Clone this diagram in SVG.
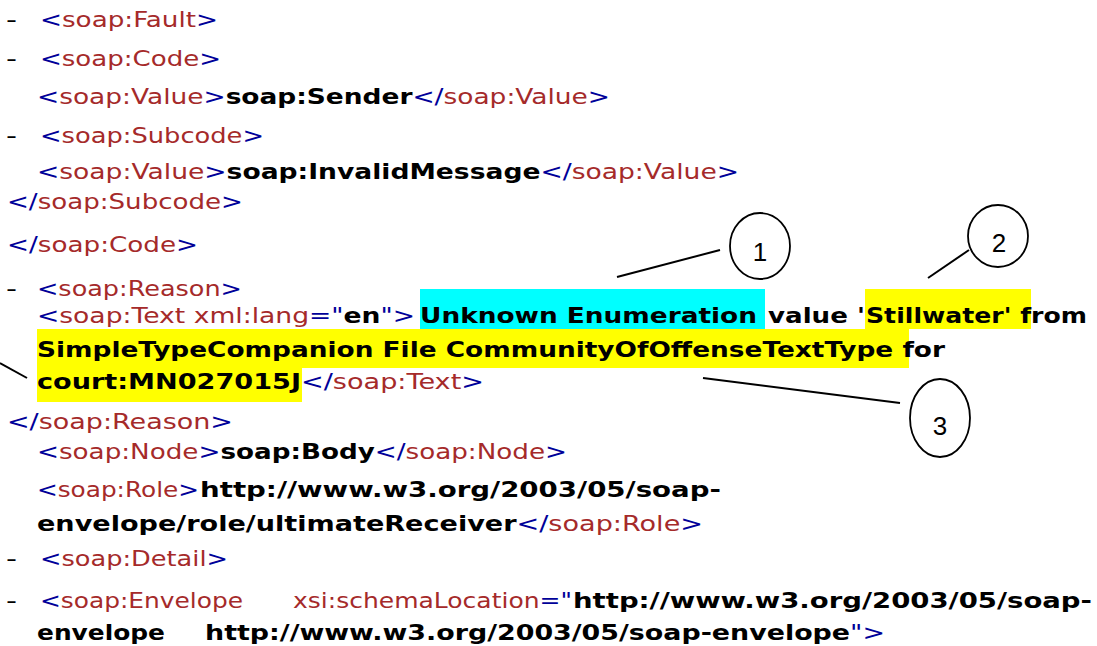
<svg xmlns="http://www.w3.org/2000/svg" width="1097" height="646" viewBox="0 0 1097 646">
<style>
text{font-family:"DejaVu Sans",Verdana,sans-serif;font-size:22px;white-space:pre}
.b{fill:#000099}
.r{fill:#A52A2A}
.k{fill:#000;font-weight:bold}
.d{fill:#000}
.num{font-family:"Liberation Sans",Arial,sans-serif;font-size:26px;fill:#000;text-anchor:middle}
.ell{fill:none;stroke:#000;stroke-width:1.8}
.ln{stroke:#000;stroke-width:2;fill:none}
</style>
<rect width="1097" height="646" fill="#fff"/>
<g id="highlights">
<rect x="420" y="289" width="345" height="40" fill="#00FFFF"/>
<rect x="865" y="289" width="166" height="40" fill="#FFFF00"/>
<rect x="37" y="329" width="872" height="39" fill="#FFFF00"/>
<rect x="37" y="367" width="265" height="35" fill="#FFFF00"/>
</g>
<g id="listing">
<g id="l1"><text class="d" x="6" y="27" textLength="11" lengthAdjust="spacingAndGlyphs">-</text><text x="40" y="27" textLength="178" lengthAdjust="spacingAndGlyphs"><tspan class="b">&lt;</tspan><tspan class="r">soap:Fault</tspan><tspan class="b">&gt;</tspan></text></g>
<g id="l2"><text class="d" x="6" y="66" textLength="11" lengthAdjust="spacingAndGlyphs">-</text><text x="40" y="66" textLength="181" lengthAdjust="spacingAndGlyphs"><tspan class="b">&lt;</tspan><tspan class="r">soap:Code</tspan><tspan class="b">&gt;</tspan></text></g>
<g id="l3"><text x="37" y="104" textLength="573" lengthAdjust="spacingAndGlyphs"><tspan class="b">&lt;</tspan><tspan class="r">soap:Value</tspan><tspan class="b">&gt;</tspan><tspan class="k">soap:Sender</tspan><tspan class="b">&lt;/</tspan><tspan class="r">soap:Value</tspan><tspan class="b">&gt;</tspan></text></g>
<g id="l4"><text class="d" x="6" y="143" textLength="11" lengthAdjust="spacingAndGlyphs">-</text><text x="40" y="143" textLength="224" lengthAdjust="spacingAndGlyphs"><tspan class="b">&lt;</tspan><tspan class="r">soap:Subcode</tspan><tspan class="b">&gt;</tspan></text></g>
<g id="l5"><text x="37" y="179" textLength="702" lengthAdjust="spacingAndGlyphs"><tspan class="b">&lt;</tspan><tspan class="r">soap:Value</tspan><tspan class="b">&gt;</tspan><tspan class="k">soap:InvalidMessage</tspan><tspan class="b">&lt;/</tspan><tspan class="r">soap:Value</tspan><tspan class="b">&gt;</tspan></text></g>
<g id="l6"><text x="7" y="209" textLength="236" lengthAdjust="spacingAndGlyphs"><tspan class="b">&lt;/</tspan><tspan class="r">soap:Subcode</tspan><tspan class="b">&gt;</tspan></text></g>
<g id="l7"><text x="7" y="252" textLength="191" lengthAdjust="spacingAndGlyphs"><tspan class="b">&lt;/</tspan><tspan class="r">soap:Code</tspan><tspan class="b">&gt;</tspan></text></g>
<g id="l8"><text class="d" x="6" y="296" textLength="11" lengthAdjust="spacingAndGlyphs">-</text><text x="37" y="296" textLength="205" lengthAdjust="spacingAndGlyphs"><tspan class="b">&lt;</tspan><tspan class="r">soap:Reason</tspan><tspan class="b">&gt;</tspan></text></g>
<g id="l9"><text x="37" y="323" textLength="378" lengthAdjust="spacingAndGlyphs"><tspan class="b">&lt;</tspan><tspan class="r">soap:Text xml:lang</tspan><tspan class="b">="</tspan><tspan class="k">en</tspan><tspan class="b">"&gt;</tspan></text><text class="k" x="420" y="323" textLength="337" lengthAdjust="spacingAndGlyphs">Unknown Enumeration</text><text class="k" x="768" y="323" textLength="97" lengthAdjust="spacingAndGlyphs">value '</text><text class="k" x="866" y="323" textLength="221" lengthAdjust="spacingAndGlyphs">Stillwater' from</text></g>
<g id="l10"><text class="k" x="37" y="357" textLength="908" lengthAdjust="spacingAndGlyphs">SimpleTypeCompanion File CommunityOfOffenseTextType for</text></g>
<g id="l11"><text x="37" y="389" textLength="447" lengthAdjust="spacingAndGlyphs"><tspan class="k">court:MN027015J</tspan><tspan class="b">&lt;/</tspan><tspan class="r">soap:Text</tspan><tspan class="b">&gt;</tspan></text></g>
<g id="l12"><text x="7" y="429" textLength="226" lengthAdjust="spacingAndGlyphs"><tspan class="b">&lt;/</tspan><tspan class="r">soap:Reason</tspan><tspan class="b">&gt;</tspan></text></g>
<g id="l13"><text x="37" y="459" textLength="530" lengthAdjust="spacingAndGlyphs"><tspan class="b">&lt;</tspan><tspan class="r">soap:Node</tspan><tspan class="b">&gt;</tspan><tspan class="k">soap:Body</tspan><tspan class="b">&lt;/</tspan><tspan class="r">soap:Node</tspan><tspan class="b">&gt;</tspan></text></g>
<g id="l14"><text x="37" y="497" textLength="162" lengthAdjust="spacingAndGlyphs"><tspan class="b">&lt;</tspan><tspan class="r">soap:Role</tspan><tspan class="b">&gt;</tspan></text><text class="k" x="200" y="497" textLength="521" lengthAdjust="spacingAndGlyphs">http://www.w3.org/2003/05/soap-</text></g>
<g id="l15"><text x="37" y="531" textLength="666" lengthAdjust="spacingAndGlyphs"><tspan class="k">envelope/role/ultimateReceiver</tspan><tspan class="b">&lt;/</tspan><tspan class="r">soap:Role</tspan><tspan class="b">&gt;</tspan></text></g>
<g id="l16"><text class="d" x="6" y="566" textLength="11" lengthAdjust="spacingAndGlyphs">-</text><text x="40" y="566" textLength="188" lengthAdjust="spacingAndGlyphs"><tspan class="b">&lt;</tspan><tspan class="r">soap:Detail</tspan><tspan class="b">&gt;</tspan></text></g>
<g id="l17"><text class="d" x="6" y="608" textLength="11" lengthAdjust="spacingAndGlyphs">-</text><text x="40" y="608" textLength="203" lengthAdjust="spacingAndGlyphs"><tspan class="b">&lt;</tspan><tspan class="r">soap:Envelope</tspan></text><text x="293" y="608" textLength="279" lengthAdjust="spacingAndGlyphs"><tspan class="r">xsi:schemaLocation</tspan><tspan class="b">="</tspan></text><text class="k" x="573" y="608" textLength="519" lengthAdjust="spacingAndGlyphs">http://www.w3.org/2003/05/soap-</text></g>
<g id="l18"><text class="k" x="37" y="640" textLength="128" lengthAdjust="spacingAndGlyphs">envelope</text><text x="205" y="640" textLength="680" lengthAdjust="spacingAndGlyphs"><tspan class="k">http://www.w3.org/2003/05/soap-envelope</tspan><tspan class="b">"&gt;</tspan></text></g>
</g>
<g id="connectors">
<line class="ln" x1="617" y1="277" x2="720" y2="250"/>
<line class="ln" x1="928" y1="278" x2="969" y2="250"/>
<line class="ln" x1="703" y1="378" x2="900" y2="403"/>
<line class="ln" x1="0" y1="363" x2="27" y2="378"/>
</g>
<g id="callout1"><ellipse class="ell" cx="760" cy="246" rx="30" ry="33"/><text class="num" x="760" y="261">1</text></g>
<g id="callout2"><ellipse class="ell" cx="998" cy="236" rx="30" ry="31"/><text class="num" x="999" y="252">2</text></g>
<g id="callout3"><ellipse class="ell" cx="940" cy="418" rx="30" ry="39"/><text class="num" x="940" y="435">3</text></g>
</svg>
